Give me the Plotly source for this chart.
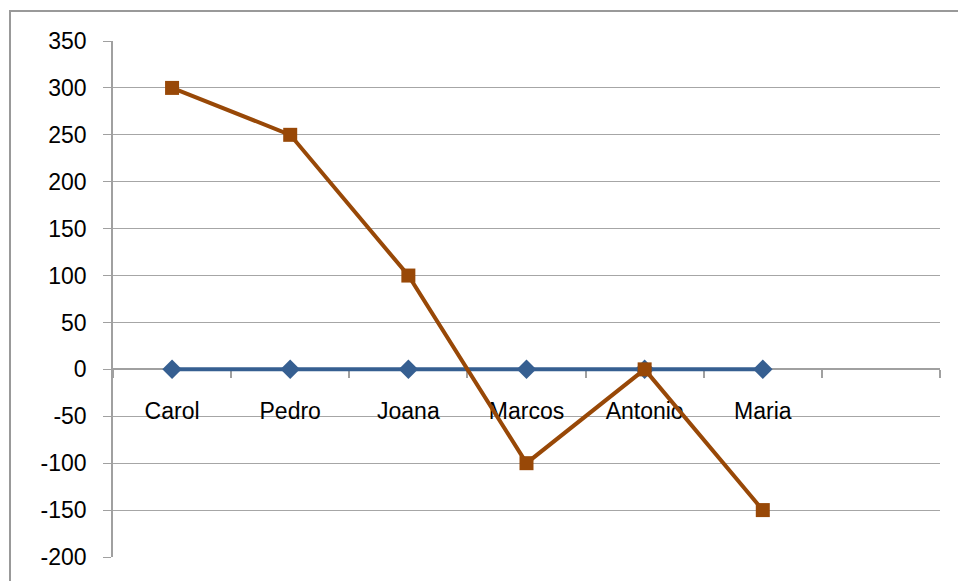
import plotly.graph_objects as go

categories = ["Carol", "Pedro", "Joana", "Marcos", "Antonio", "Maria"]
series_blue = [0, 0, 0, 0, 0, 0]
series_brown = [300, 250, 100, -100, 0, -150]
y_ticks = [-200, -150, -100, -50, 0, 50, 100, 150, 200, 250, 300, 350]
y_tick_labels = ["-200", "-150", "-100", "-50", "0", "50", "100", "150",
                 "200", "250", "300", "350"]
n_slots = 7  # the category axis has one extra empty slot

y_min, y_max = -200, 350
x_pos = list(range(len(categories)))
boundaries = [i - 0.5 for i in range(n_slots + 1)]

fig = go.Figure()
fig.add_trace(go.Scatter(
    x=x_pos, y=series_blue, mode="lines+markers",
    line=dict(color="#365f91", width=4),
    marker=dict(symbol="diamond", size=15, color="#365f91"),
    showlegend=False, cliponaxis=False,
))
fig.add_trace(go.Scatter(
    x=x_pos, y=series_brown, mode="lines+markers",
    line=dict(color="#984807", width=4),
    marker=dict(symbol="square", size=14, color="#984807"),
    showlegend=False, cliponaxis=False,
))

font_family = "Liberation Sans, Arial, sans-serif"

fig.update_layout(
    width=958, height=581,
    margin=dict(l=113, r=18, t=41, b=24),
    paper_bgcolor="white", plot_bgcolor="white",
    font=dict(family=font_family, size=23, color="black"),
    xaxis=dict(
        range=[-0.5, n_slots - 0.5],
        tickvals=x_pos, ticktext=categories,
        ticks="", showgrid=False, zeroline=False,
        showline=True, linecolor="#a0a0a0", linewidth=1.5,
        anchor="free", position=(0 - y_min) / (y_max - y_min),
        layer="below traces",
        ticklabelstandoff=21,
        minor=dict(tickvals=boundaries, ticks="outside", ticklen=8,
                   tickcolor="#a0a0a0", tickwidth=1.5, showgrid=False),
        tickfont=dict(family=font_family, size=23, color="black"),
    ),
    yaxis=dict(
        range=[y_min, y_max], tickvals=y_ticks, ticktext=y_tick_labels,
        showgrid=True, gridcolor="#a6a6a6", gridwidth=1,
        zeroline=False,
        showline=True, linecolor="#a0a0a0", linewidth=1.5,
        ticks="outside", ticklen=8, tickcolor="#a0a0a0", tickwidth=1,
        ticklabelstandoff=12, layer="below traces",
        tickfont=dict(family=font_family, size=23, color="black"),
    ),
    shapes=[dict(
        type="rect", xref="paper", yref="paper",
        x0=(10 - 113) / 827, x1=1.2,
        y0=-0.2, y1=1 + (41 - 11) / 516,
        line=dict(color="#999999", width=2), fillcolor="rgba(0,0,0,0)",
        layer="below",
    )],
)

fig.write_html("out.html")
